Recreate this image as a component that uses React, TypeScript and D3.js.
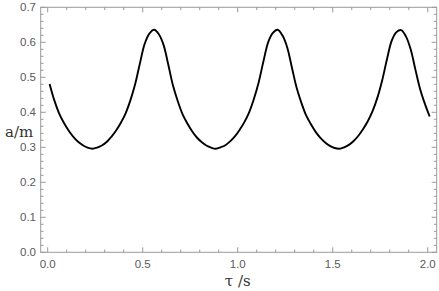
import React from "react";
import * as d3 from "d3";

const tau: number[] = [
  0.010, 0.035, 0.060, 0.085, 0.110, 0.135, 0.160, 0.185, 0.210, 0.235,
  0.260, 0.285, 0.310, 0.335, 0.360, 0.385, 0.410, 0.435, 0.460, 0.485,
  0.510, 0.535, 0.560, 0.585, 0.610, 0.635, 0.660, 0.685, 0.710, 0.735,
  0.760, 0.785, 0.810, 0.835, 0.860, 0.885, 0.910, 0.935, 0.960, 0.985,
  1.010, 1.035, 1.060, 1.085, 1.110, 1.135, 1.160, 1.185, 1.210, 1.235,
  1.260, 1.285, 1.310, 1.335, 1.360, 1.385, 1.410, 1.435, 1.460, 1.485,
  1.510, 1.535, 1.560, 1.585, 1.610, 1.635, 1.660, 1.685, 1.710, 1.735,
  1.760, 1.785, 1.810, 1.835, 1.860, 1.885, 1.910, 1.935, 1.960, 1.985,
  2.010,
];

const aValues: number[] = [
  0.481, 0.434, 0.397, 0.370, 0.348, 0.330, 0.316, 0.306, 0.299, 0.296,
  0.299, 0.305, 0.315, 0.330, 0.348, 0.370, 0.397, 0.434, 0.480, 0.539,
  0.595, 0.625, 0.636, 0.623, 0.592, 0.535, 0.475, 0.431, 0.394, 0.368,
  0.346, 0.328, 0.315, 0.305, 0.299, 0.296, 0.300, 0.306, 0.317, 0.331,
  0.350, 0.372, 0.400, 0.438, 0.485, 0.545, 0.600, 0.627, 0.636, 0.620,
  0.586, 0.528, 0.470, 0.427, 0.391, 0.366, 0.344, 0.327, 0.314, 0.304,
  0.298, 0.296, 0.300, 0.307, 0.318, 0.333, 0.352, 0.375, 0.404, 0.442,
  0.491, 0.551, 0.604, 0.629, 0.635, 0.617, 0.580, 0.522, 0.466, 0.424,
  0.388,
];

const xTickLabels: string[] = ["0.0", "0.5", "1.0", "1.5", "2.0"];
const yTickLabels: string[] = ["0.0", "0.1", "0.2", "0.3", "0.4", "0.5", "0.6", "0.7"];
const xLabel = "τ /s";
const yLabel = "a/m";

export default function App() {
  const W = 439;
  const H = 291;
  const left = 40.7;
  const right = 436.7;
  const top = 7.3;
  const bottom = 252.3;

  const x = d3.scaleLinear().domain([-0.0368, 2.047]).range([left, right]);
  const y = d3.scaleLinear().domain([0, 0.7]).range([bottom, top]);

  const pts: [number, number][] = tau.map((t, i) => [t, aValues[i]]);
  const line = d3
    .line<[number, number]>()
    .x((d) => x(d[0]))
    .y((d) => y(d[1]))
    .curve(d3.curveCatmullRom.alpha(0.5));

  const xMajor = xTickLabels.map((s) => +s);
  const yMajor = yTickLabels.map((s) => +s);
  const xMinor = d3.range(0, 21).map((i) => i / 10).filter((v) => Math.abs(v * 2 - Math.round(v * 2)) > 1e-6);
  const yMinor = d3.range(0, 36).map((i) => i / 50).filter((v) => Math.abs(v * 10 - Math.round(v * 10)) > 1e-6 && v <= 0.7);

  const frame = "#9a9a9a";
  const labelColor = "#5a5a5a";
  const majLen = 5;
  const minLen = 2.8;
  const serif = "'DejaVu Serif', serif";
  const sans = "'Liberation Sans', Arial, sans-serif";

  return (
    <svg width={W} height={H} style={{ position: "absolute", left: 0, top: 0, background: "#fff" }}>
      <rect x={left} y={top} width={right - left} height={bottom - top} fill="none" stroke={frame} strokeWidth={1} />
      {xMajor.map((v) => (
        <g key={"xM" + v}>
          <line x1={x(v)} x2={x(v)} y1={bottom} y2={bottom - majLen} stroke={frame} />
          <line x1={x(v)} x2={x(v)} y1={top} y2={top + majLen} stroke={frame} />
        </g>
      ))}
      {xMinor.map((v) => (
        <g key={"xm" + v}>
          <line x1={x(v)} x2={x(v)} y1={bottom} y2={bottom - minLen} stroke={frame} />
          <line x1={x(v)} x2={x(v)} y1={top} y2={top + minLen} stroke={frame} />
        </g>
      ))}
      {yMajor.map((v) => (
        <g key={"yM" + v}>
          <line x1={left} x2={left + majLen} y1={y(v)} y2={y(v)} stroke={frame} />
          <line x1={right} x2={right - majLen} y1={y(v)} y2={y(v)} stroke={frame} />
        </g>
      ))}
      {yMinor.map((v) => (
        <g key={"ym" + v}>
          <line x1={left} x2={left + minLen} y1={y(v)} y2={y(v)} stroke={frame} />
          <line x1={right} x2={right - minLen} y1={y(v)} y2={y(v)} stroke={frame} />
        </g>
      ))}
      {xTickLabels.map((s) => (
        <text key={"xl" + s} x={x(+s)} y={267.5} textAnchor="middle" fontFamily={sans} fontSize={11.5} fill={labelColor}>
          {s}
        </text>
      ))}
      {yTickLabels.map((s) => (
        <text key={"yl" + s} x={36} y={y(+s)} dy="0.36em" textAnchor="end" fontFamily={sans} fontSize={11.5} fill={labelColor}>
          {s}
        </text>
      ))}
      <text x={x(1.0)} y={285.5} textAnchor="middle" fontFamily={serif} fontSize={15} fill="#333">
        {xLabel}
      </text>
      <text x={5} y={136.5} textAnchor="start" fontFamily={serif} fontSize={15} fill="#333">
        {yLabel}
      </text>
      <path d={line(pts) || ""} fill="none" stroke="#000" strokeWidth={1.9} />
    </svg>
  );
}
